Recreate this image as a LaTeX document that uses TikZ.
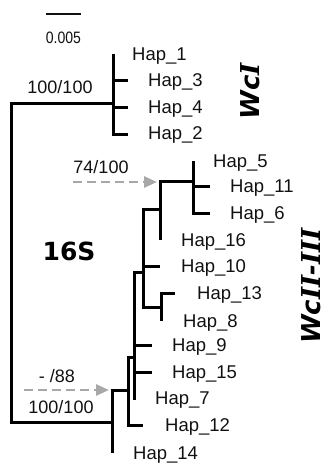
\documentclass[tikz,border=0pt]{standalone}
\usepackage{fontspec}
\setmainfont{Liberation Sans}
\newfontfamily\dvs{DejaVu Sans}
\newfontfamily\dvserif{DejaVu Serif}
\usetikzlibrary{arrows.meta}
\definecolor{txt}{HTML}{111111}
\definecolor{arrgray}{HTML}{A8A8A8}
\tikzset{
  br/.style={line width=3pt, line join=miter, black},
  hap/.style={anchor=base west, inner sep=0pt, text=txt, font=\fontsize{18.5}{20}\selectfont},
  supp/.style={anchor=base, inner sep=0pt, text=txt, font=\fontsize{18}{20}\selectfont},
  garrow/.style={line width=2.8pt, arrgray, dash pattern=on 9pt off 5pt, -{Triangle[length=13pt,width=11pt]}},
  clade/.style={rotate=90, inner sep=0pt, text=black, font=\dvs\bfseries\itshape\fontsize{26}{28}\selectfont}
}
\begin{document}
\begin{tikzpicture}[x=1pt,y=-1pt]
\useasboundingbox (0,0) rectangle (328,464);
% scale bar
\coordinate (sbL) at (46,14);
\coordinate (sbR) at (81,14);
\draw[line width=2.4pt, txt] (sbL) -- (sbR);
\node[anchor=base, inner sep=0pt, text=txt, font=\fontsize{16.5}{18}\selectfont, xscale=0.85] (sblab) at (63.5,43) {0.005};
% root
\coordinate (rootT) at (11,103);
\coordinate (rootB) at (11,422);
\coordinate (nI) at (113,103);
\coordinate (nA) at (112,390);
\draw[br] (nI) -- (rootT) -- (rootB) -- (rootB -| nA);
% WcI clade
\coordinate (wcIt) at (113,54);
\coordinate (h3) at (128,80);
\coordinate (h4) at (128,107);
\coordinate (h2) at (128,134);
\draw[br] (wcIt) |- (h2);
\draw[br] (h3) -- (h3 -| wcIt);
\draw[br] (h4) -- (h4 -| wcIt);
% WcII-III clade
\coordinate (h14) at (112,453);
\coordinate (nBt) at (128,357);
\coordinate (h12) at (143,425);
\coordinate (h7) at (134,400);
\coordinate (nCt) at (134,272);
\coordinate (h9) at (152,345);
\coordinate (h15) at (152,372);
\coordinate (nDt) at (143,209);
\coordinate (nDb) at (143,307);
\coordinate (h10) at (160,266);
\coordinate (h13) at (175,293);
\coordinate (h8) at (161,321);
\coordinate (nFt) at (160,181);
\coordinate (h16) at (160,240);
\coordinate (h5) at (193,161);
\coordinate (h11) at (210,186);
\coordinate (h6) at (210,213);
\draw[br] (h14) -- (nA) -- (nA -| nBt);
\draw[br] (nBt -| h7) -- (nBt) |- (h12);
\draw[br] (h7) -- (nCt) -- (nCt -| nDt);
\draw[br] (h9) -- (h9 -| h7);
\draw[br] (h15) -- (h15 -| h7);
\draw[br] (nDb -| h8) -- (nDb) -- (nDt) -- (nDt -| nFt);
\draw[br] (h10) -- (h10 -| nDt);
\draw[br] (h8) |- (h13);
\draw[br] (h16) -- (nFt) -- (nFt -| h5);
\draw[br] (h5) |- (h6);
\draw[br] (h11) -- (h11 -| h5);
% tip labels
\node[hap] (L1) at (132,60.5) {Hap\_1};
\node[hap] (L3) at (148,86.5) {Hap\_3};
\node[hap] (L4) at (148,113.5) {Hap\_4};
\node[hap] (L2) at (148,139.5) {Hap\_2};
\node[hap] (L5) at (213,167.5) {Hap\_5};
\node[hap] (L11) at (230,192.5) {Hap\_11};
\node[hap] (L6) at (230,219.5) {Hap\_6};
\node[hap] (L16) at (181,246.5) {Hap\_16};
\node[hap] (L10) at (181,272.5) {Hap\_10};
\node[hap] (L13) at (197,299.5) {Hap\_13};
\node[hap] (L8) at (183,327.5) {Hap\_8};
\node[hap] (L9) at (172,351.5) {Hap\_9};
\node[hap] (L15) at (172,378.5) {Hap\_15};
\node[hap] (L7) at (155,404.5) {Hap\_7};
\node[hap] (L12) at (165,431.5) {Hap\_12};
\node[hap] (L14) at (133,459.5) {Hap\_14};
% support values
\node[supp] (s1) at (60,93) {100/100};
\node[supp] (s2) at (101,173) {74/100};
\node[supp] (s3) at (57,382) {- /88};
\node[supp] (s4) at (61,413) {100/100};
% arrows
\coordinate (a1s) at (73,182);
\coordinate (a1e) at (157,182);
\coordinate (a2s) at (24,390);
\coordinate (a2e) at (109,390);
\draw[garrow] (a1s) -- (a1e);
\draw[garrow] (a2s) -- (a2e);
% clade names
\node[inner sep=0pt, font=\dvs\bfseries\fontsize{25}{27}\selectfont] (gene) at (69,251) {16S};
\node[clade] (c1) at (250,91) {Wc{\dvserif I}};
\node[clade] (c2) at (311,286) {Wc{\dvserif II}-{\dvserif III}};
\end{tikzpicture}
\end{document}
